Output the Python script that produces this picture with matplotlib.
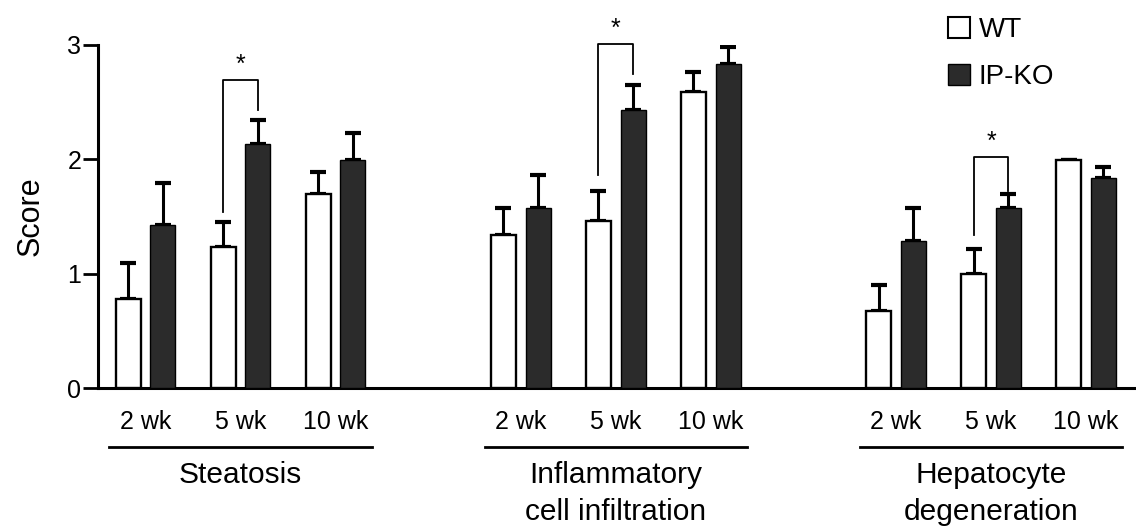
import numpy as np
import matplotlib
matplotlib.use("Agg")
import matplotlib.pyplot as plt
from matplotlib.patches import Patch

plt.rcParams['font.family'] = ['Liberation Sans', 'DejaVu Sans']

# Datos
grupos = ["Steatosis", "Inflammatory\ncell infiltration", "Hepatocyte\ndegeneration"]
semanas = ["2 wk", "5 wk", "10 wk"]

wt = [[0.78, 1.23, 1.70], [1.34, 1.46, 2.59], [0.67, 1.00, 1.99]]
wt_err = [[0.31, 0.22, 0.19], [0.23, 0.26, 0.17], [0.23, 0.22, 0.0]]
ko = [[1.43, 2.13, 1.99], [1.57, 2.43, 2.83], [1.29, 1.57, 1.84]]
ko_err = [[0.36, 0.21, 0.24], [0.29, 0.22, 0.15], [0.28, 0.13, 0.09]]

# Corchetes de significancia (5 wk): base izq, tope, base der
corchetes = [[1.54, 2.69, 2.43], [1.86, 3.01, 2.75], [1.34, 2.02, 1.72]]

# Posiciones
inicio_grupo = [0.5, 4.45, 8.4]
paso = 1.0
ancho = 0.263
desp = 0.184

fig = plt.figure(figsize=(11.36, 5.32), dpi=100)
ax = fig.add_axes([98 / 1136, 1 - 388 / 532, 1038 / 1136, 343 / 532])

gris = "#2b2b2b"
for g in range(3):
    x = inicio_grupo[g] + paso * np.arange(3)
    ax.bar(x - desp, wt[g], width=ancho, color="white", edgecolor="black", linewidth=1.7, zorder=3)
    ax.bar(x + desp, ko[g], width=ancho, color=gris, edgecolor="black", linewidth=1.0, zorder=3)
    ax.errorbar(x - desp, wt[g], yerr=[np.zeros(3), wt_err[g]], fmt="none", ecolor="black",
                elinewidth=2.2, capsize=5.5, capthick=3, zorder=2)
    ax.errorbar(x + desp, ko[g], yerr=[np.zeros(3), ko_err[g]], fmt="none", ecolor="black",
                elinewidth=2.2, capsize=5.5, capthick=3, zorder=2)

    # corchete en 5 wk
    xl = x[1] - desp
    xr = x[1] + desp
    b1, top, b2 = corchetes[g]
    ax.plot([xl, xl, xr, xr], [b1, top, top, b2], color="black", lw=1.3, clip_on=False)
    ax.text((xl + xr) / 2, top + 0.03, "*", ha="center", va="bottom", fontsize=18, clip_on=False)

    # etiquetas inferiores
    for xi, s in zip(x, semanas):
        ax.text(xi, -0.3, s, ha="center", va="center", fontsize=18)
    ax.plot([x[0] - 0.38, x[-1] + 0.38], [-0.52, -0.52], color="black", lw=2, clip_on=False)
    ax.text(x[1], -0.64, grupos[g], ha="center", va="top", fontsize=21.5, linespacing=1.4)

ax.set_xlim(0, 1038 / 95)
ax.set_ylim(0, 3)
ax.set_yticks([0, 1, 2, 3])
ax.set_xticks([])
ax.tick_params(axis="y", direction="out", length=11, width=2, labelsize=18, pad=1)
ax.spines["top"].set_visible(False)
ax.spines["right"].set_visible(False)
ax.spines["left"].set_linewidth(2.2)
ax.spines["bottom"].set_linewidth(2.2)
ax.set_ylabel("Score", fontsize=22, labelpad=16)

handles = [Patch(facecolor="white", edgecolor="black", linewidth=1.5, label="WT"),
           Patch(facecolor=gris, edgecolor="black", label="IP-KO")]
fig.legend(handles=handles, loc="upper left", bbox_to_anchor=(937 / 1136, 1 - 6 / 532),
           frameon=False, fontsize=20, handlelength=0.8, handleheight=0.8,
           handletextpad=0.3, labelspacing=0.75, borderaxespad=0)

fig.savefig("out.png", dpi=100)
